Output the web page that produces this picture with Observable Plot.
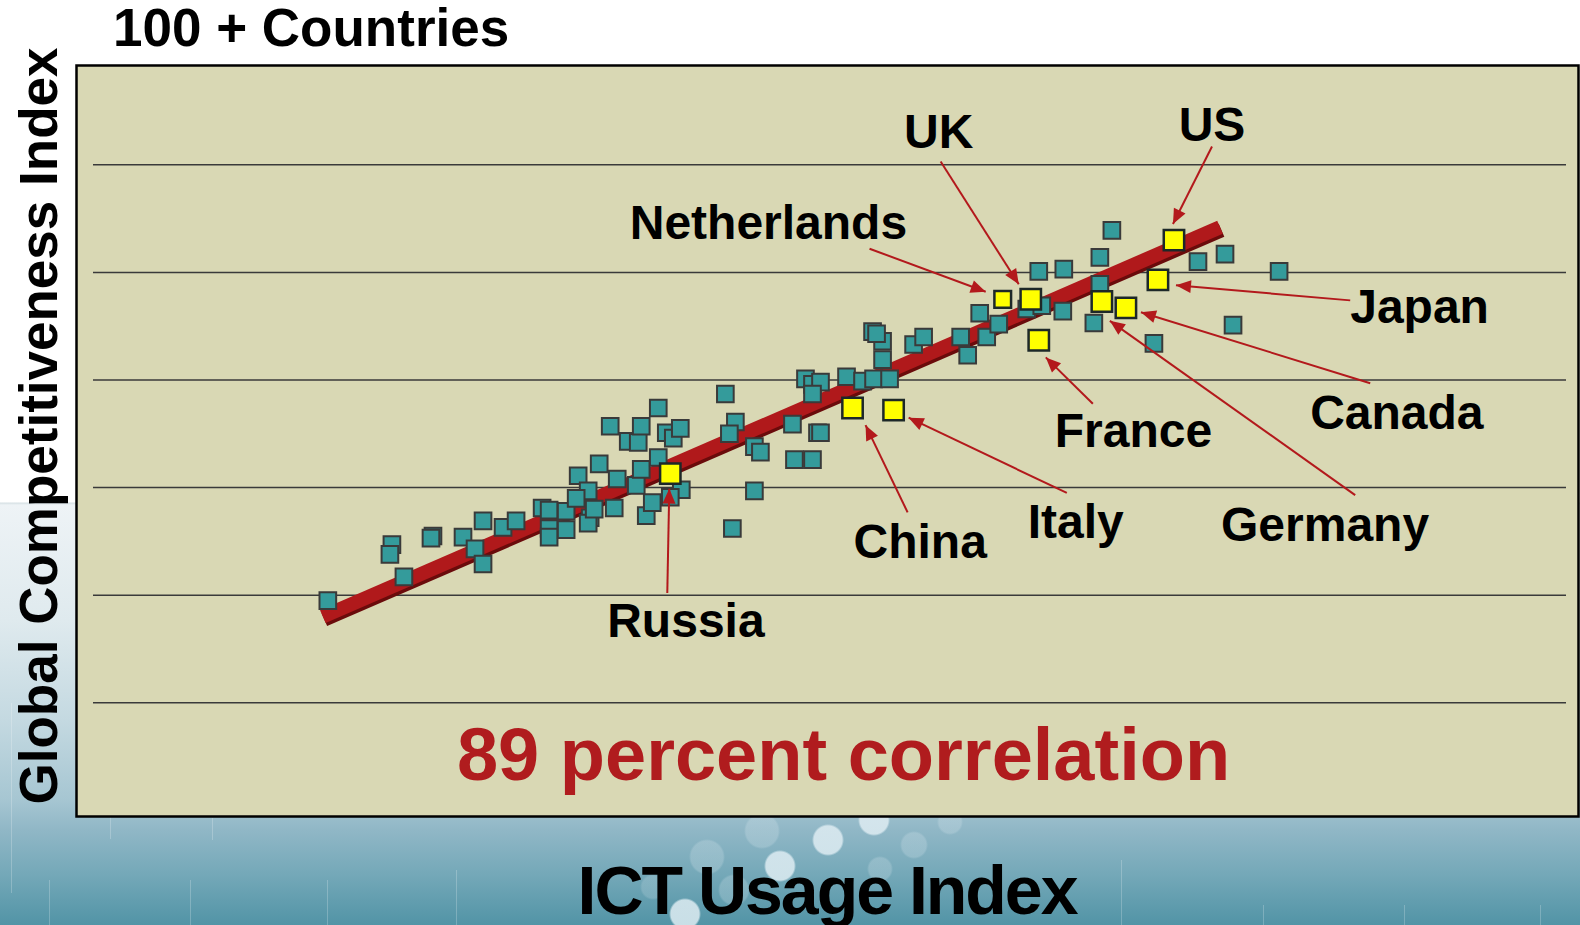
<!DOCTYPE html>
<html><head><meta charset="utf-8">
<script src="https://cdn.jsdelivr.net/npm/d3@7"></script>
<script src="https://cdn.jsdelivr.net/npm/@observablehq/plot@0.6"></script>
<style>
html,body{margin:0;padding:0;}
body{width:1580px;height:925px;position:relative;overflow:hidden;font-family:"Liberation Sans",Arial,sans-serif;
background:
 radial-gradient(circle at 828px 840px, rgba(222,236,242,.85) 14px, rgba(222,236,242,0) 16px),
 radial-gradient(circle at 780px 866px, rgba(222,236,242,.85) 14px, rgba(222,236,242,0) 16px),
 radial-gradient(circle at 685px 914px, rgba(222,236,242,.85) 14px, rgba(222,236,242,0) 16px),
 radial-gradient(circle at 874px 820px, rgba(222,236,242,.85) 14px, rgba(222,236,242,0) 16px),
 radial-gradient(circle at 762px 831px, rgba(230,240,245,.22) 16px, rgba(230,240,245,0) 18px),
 radial-gradient(circle at 707px 857px, rgba(230,240,245,.22) 16px, rgba(230,240,245,0) 18px),
 radial-gradient(circle at 734px 890px, rgba(230,240,245,.22) 14px, rgba(230,240,245,0) 16px),
 radial-gradient(circle at 914px 845px, rgba(230,240,245,.22) 12px, rgba(230,240,245,0) 14px),
 radial-gradient(circle at 950px 822px, rgba(230,240,245,.22) 11px, rgba(230,240,245,0) 13px),
 radial-gradient(circle at 880px 869px, rgba(230,240,245,.22) 11px, rgba(230,240,245,0) 13px),
 radial-gradient(circle at 653px 887px, rgba(230,240,245,.18) 11px, rgba(230,240,245,0) 13px),
 linear-gradient(to bottom, #fff 0, #fff 502px, #d6e0e4 503px, #eef3f6 505px, #dfeaee 620px, #c4d9e1 720px, #a6c6d2 800px, #90b7c6 830px, #74a8b8 875px, #5294a6 925px);
}
#chart{position:absolute;left:0;top:0;}
.t{position:absolute;font-weight:bold;color:#000;white-space:nowrap;line-height:1;}
#title{left:113px;top:1px;font-size:53px;}
#ylab{left:38px;top:426px;font-size:53px;transform:translate(-50%,-50%) rotate(-90deg);}
#xlab{left:827px;top:856px;font-size:68px;letter-spacing:-2px;transform:translateX(-50%);}
.vl{position:absolute;width:1px;background:rgba(255,255,255,.22);}
</style></head><body>
<div class="vl" style="left:11px;top:703px;height:190px"></div>
<div class="vl" style="left:49px;top:880px;height:45px"></div>
<div class="vl" style="left:110px;top:817px;height:22px"></div>
<div class="vl" style="left:212px;top:818px;height:22px"></div>
<div class="vl" style="left:190px;top:880px;height:45px"></div>
<div class="vl" style="left:327px;top:880px;height:45px"></div>
<div class="vl" style="left:456px;top:870px;height:55px"></div>
<div class="vl" style="left:1121px;top:860px;height:65px"></div>
<div class="vl" style="left:1263px;top:905px;height:20px"></div>
<div class="vl" style="left:1404px;top:905px;height:20px"></div>
<div class="vl" style="left:1540px;top:905px;height:20px"></div>
<div id="chart"></div>
<div class="t" id="title">100 + Countries</div>
<div class="t" id="ylab">Global Competitiveness Index</div>
<div class="t" id="xlab">ICT Usage Index</div>
<script>
// Other countries: ICT Usage Index (x) and Global Competitiveness Index (y)
const otherIct = [2.51,3.15,3.13,3.27,3.56,3.54,3.86,3.98,4.06,4.06,4.26,4.39,4.65,4.72,4.72,4.72,4.89,4.89,5.01,5.11,4.99,5.13,5.11,5.17,5.22,5.33,5.40,5.37,5.51,5.61,5.64,5.59,5.64,5.69,5.81,5.89,5.96,6.03,5.81,5.75,6.04,5.93,6.48,6.58,6.52,6.55,6.77,6.83,6.77,7.15,7.40,7.43,7.17,7.35,7.28,7.35,7.43,7.35,7.69,7.85,7.96,8.12,8.05,8.05,7.95,7.99,8.36,8.46,8.83,8.90,9.09,9.02,9.21,9.49,9.64,9.61,9.86,9.85,10.22,10.34,10.22,10.16,10.76,11.20,11.47,11.55,12.01];
const otherGci = [1.95,2.47,2.38,2.17,2.55,2.53,2.54,2.43,2.29,2.69,2.63,2.69,2.81,2.79,2.62,2.54,2.78,2.61,3.11,2.97,2.90,2.72,2.67,2.80,3.22,3.57,3.08,2.81,3.43,3.42,3.57,3.02,3.17,2.74,3.74,3.51,3.46,3.55,3.28,2.86,2.98,2.91,3.87,3.61,3.50,2.62,3.38,3.33,2.97,3.59,3.51,3.51,3.26,3.26,4.01,3.96,3.98,3.87,4.03,3.99,4.01,4.01,4.19,4.36,4.45,4.43,4.33,4.40,4.40,4.23,4.40,4.62,4.52,4.66,4.69,5.01,5.03,4.64,5.14,5.39,4.89,4.53,4.34,5.10,5.17,4.51,5.01];

// Highlighted countries
const countries  = ["Russia","China","Italy","France","Netherlands","UK","Germany","Canada","Japan","US"];
const countryIct = [5.93, 7.75, 8.16, 9.61, 9.25, 9.53, 10.24, 10.48, 10.80, 10.96];
const countryGci = [3.13, 3.74, 3.72, 4.37, 4.75, 4.75, 4.73, 4.67, 4.93, 5.30];

// Label placement (data units) and arrow starts / ends
const labelIct    = [5.30, 7.76, 9.50, 9.77, 6.91, 8.61, 11.43, 12.32, 12.72, 11.34];
const labelGci    = [1.75, 2.49, 2.67, 3.52, 5.45, 6.30, 2.65, 3.69, 4.67, 6.36];
const labelAnchor = ["start","start","start","start","middle","middle","start","start","start","middle"];
const arrowFromIct = [5.90, 8.30, 9.89, 10.15, 7.92, 8.63, 12.77, 12.92, 12.72, 11.34];
const arrowFromGci = [2.02, 2.77, 2.95, 3.78, 5.22, 6.03, 2.93, 3.97, 4.74, 6.17];
const arrowToIct   = [5.92, 7.88, 8.31, 9.68, 9.08, 9.41, 10.32, 10.63, 10.98, 10.95];
const arrowToGci   = [2.99, 3.58, 3.65, 4.21, 4.82, 4.89, 4.55, 4.63, 4.88, 5.45];

// Trend line and grid
const trendIct = [2.46, 11.42];
const trendGci = [1.80, 5.42];
const gridGci = [1, 2, 3, 4, 5, 6];
const note = "89 percent correlation";

const others = otherIct.map((x, i) => ({x, y: otherGci[i]}));
const hi = countries.map((c, i) => ({c, x: countryIct[i], y: countryGci[i],
  lx: labelIct[i], ly: labelGci[i], la: labelAnchor[i],
  x1: arrowFromIct[i], y1: arrowFromGci[i], x2: arrowToIct[i], y2: arrowToGci[i]}));
const trend = trendIct.map((x, i) => ({x, y: trendGci[i]}));

const font = "Liberation Sans, Arial, sans-serif";
const labelStyle = {x: "lx", y: "ly", text: "c", fontSize: 48, fontWeight: "bold", fontFamily: font, fill: "#000"};
const chart = Plot.plot({
  width: 1580, height: 925,
  marginLeft: 76, marginRight: 2, marginTop: 65, marginBottom: 109,
  style: {background: "transparent", overflow: "visible"},
  x: {domain: [0, 15], axis: null},
  y: {domain: [-0.057, 6.923], axis: null},
  marks: [
    Plot.frame({fill: "#d9d8b4", stroke: null}),
    Plot.ruleY(gridGci, {stroke: "#3a3a3a", strokeWidth: 1.5, insetLeft: 17, insetRight: 12}),
    Plot.line(trend, {x: "x", y: "y", dx: 1.5, dy: 3, stroke: "#6a0b0b", strokeWidth: 14, strokeLinecap: "butt"}),
    Plot.line(trend, {x: "x", y: "y", stroke: "#b0191b", strokeWidth: 14, strokeLinecap: "butt"}),
    Plot.dot(others, {x: "x", y: "y", symbol: "square", r: 9.4, fill: "#349b9b", stroke: "#3a3a3a", strokeWidth: 2}),
    Plot.dot(hi.filter(d => d.c !== "Netherlands"), {x: "x", y: "y", symbol: "square", r: 11.5, fill: "#ffff00", stroke: "#1d2828", strokeWidth: 2.5}),
    Plot.dot(hi.filter(d => d.c === "Netherlands"), {x: "x", y: "y", symbol: "square", r: 9.4, fill: "#ffff00", stroke: "#1d2828", strokeWidth: 2.5}),
    Plot.link(hi, {x1: "x1", y1: "y1", x2: "x2", y2: "y2", stroke: "#b3191c", strokeWidth: 2, markerEnd: "arrow"}),
    Plot.text(hi.filter(d => d.la === "start"), {...labelStyle, textAnchor: "start"}),
    Plot.text(hi.filter(d => d.la === "middle"), {...labelStyle, textAnchor: "middle"}),
    Plot.text([note], {x: 7.66, y: 0.50, text: d => d, fontSize: 74, fontWeight: "bold", fontFamily: font, fill: "#b01c1e"}),
    Plot.frame({stroke: "#000", strokeWidth: 2.5})
  ]
});
chart.querySelectorAll("marker").forEach(m => {
  const c = m.getAttribute("stroke") || "#b3191c";
  m.setAttribute("viewBox", "-16 -8 16 16");
  m.setAttribute("markerUnits", "userSpaceOnUse");
  m.setAttribute("markerWidth", 16);
  m.setAttribute("markerHeight", 16);
  m.setAttribute("fill", c);
  m.setAttribute("stroke", "none");
  const p = m.querySelector("path");
  if (p) p.setAttribute("d", "M-15,-6.5L0,0L-15,6.5Z");
});
document.getElementById("chart").append(chart);
</script>
</body></html>
